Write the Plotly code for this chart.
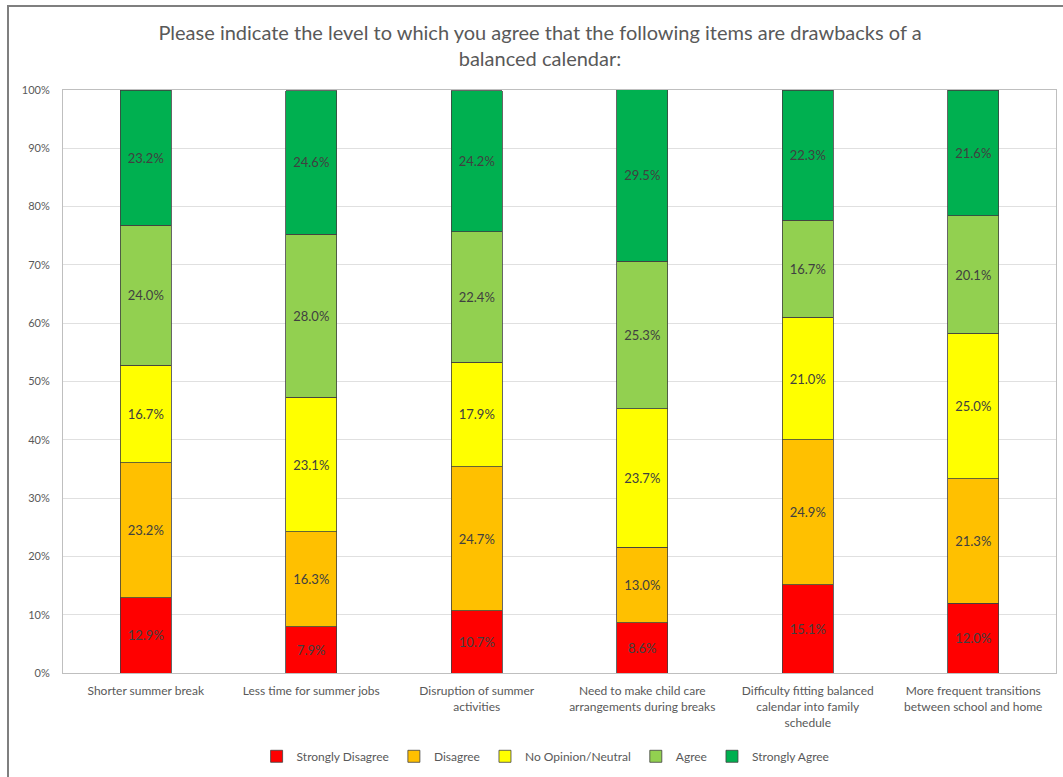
import plotly.graph_objects as go

categories = [
    "Shorter summer break",
    "Less time for summer jobs",
    "Disruption of summer<br>activities",
    "Need to make child care<br>arrangements during breaks",
    "Difficulty fitting balanced<br>calendar into family<br>schedule",
    "More frequent transitions<br>between school and home",
]
series_names = ["Strongly Disagree", "Disagree", "No Opinion/Neutral", "Agree", "Strongly Agree"]
strongly_disagree = [12.9, 7.9, 10.7, 8.6, 15.1, 12.0]
disagree = [23.2, 16.3, 24.7, 13.0, 24.9, 21.3]
neutral = [16.7, 23.1, 17.9, 23.7, 21.0, 25.0]
agree = [24.0, 28.0, 22.4, 25.3, 16.7, 20.1]
strongly_agree = [23.2, 24.6, 24.2, 29.5, 22.3, 21.6]
series_values = [strongly_disagree, disagree, neutral, agree, strongly_agree]
colors = ["#FF0000", "#FFC000", "#FFFF00", "#92D050", "#00B050"]
ytick_vals = [0, 10, 20, 30, 40, 50, 60, 70, 80, 90, 100]
ytick_text = [f"{v}%" for v in ytick_vals]

FONT = "Lato, Liberation Sans, Arial, sans-serif"

fig = go.Figure()
for name, vals, col in zip(series_names, series_values, colors):
    fig.add_trace(go.Bar(
        x=categories, y=vals, name=name,
        marker=dict(color=col, line=dict(color="#404040", width=0.8)),
        texttemplate="%{y:.1f}%", textposition="inside", insidetextanchor="middle",
        textangle=0, constraintext="none",
        textfont=dict(family=FONT, size=13, color="#404040"),
        hoverinfo="skip",
    ))

fig.update_layout(
    barmode="stack",
    bargap=0.69,
    width=1063, height=777,
    margin=dict(l=63, r=7, t=90, b=104, autoexpand=False),
    paper_bgcolor="white", plot_bgcolor="white",
    font=dict(family=FONT, color="#595959"),
    title=dict(
        text="Please indicate the level to which you agree that the following items are drawbacks of a<br>balanced calendar:",
        x=0.508, xanchor="center", y=0.949, yanchor="top",
        font=dict(family=FONT, size=20, color="#595959"),
    ),
    xaxis=dict(
        showline=True, linecolor="#BFBFBF", linewidth=1, mirror=True,
        tickfont=dict(family=FONT, size=12, color="#595959"),
        ticks="", ticklabelstandoff=7, automargin=False,
    ),
    yaxis=dict(
        range=[0, 100], tickvals=ytick_vals, ticktext=ytick_text,
        showgrid=True, gridcolor="#E0E0E0", gridwidth=1,
        showline=True, linecolor="#BFBFBF", linewidth=1, mirror=True,
        tickfont=dict(family=FONT, size=11, color="#595959"),
        ticks="", zeroline=False, ticklabelstandoff=10, automargin=False,
    ),
    legend=dict(
        orientation="h", x=0.486, xanchor="center", y=-0.118, yanchor="top",
        font=dict(family=FONT, size=12, color="#595959"),
        itemwidth=30, traceorder="normal",
    ),
    showlegend=True,
)

# outer chart border (extends past the right/bottom edges as in the reference)
fig.add_shape(
    type="rect", xref="paper", yref="paper",
    x0=(8 - 63) / 993, x1=(1070 - 63) / 993,
    y0=(673 - 790) / 583, y1=(673 - 6) / 583,
    line=dict(color="#7F7F7F", width=2), fillcolor="rgba(0,0,0,0)", layer="below",
)

fig.write_html("out.html", config={"displayModeBar": False},
               post_script="document.body.style.margin='0';")
